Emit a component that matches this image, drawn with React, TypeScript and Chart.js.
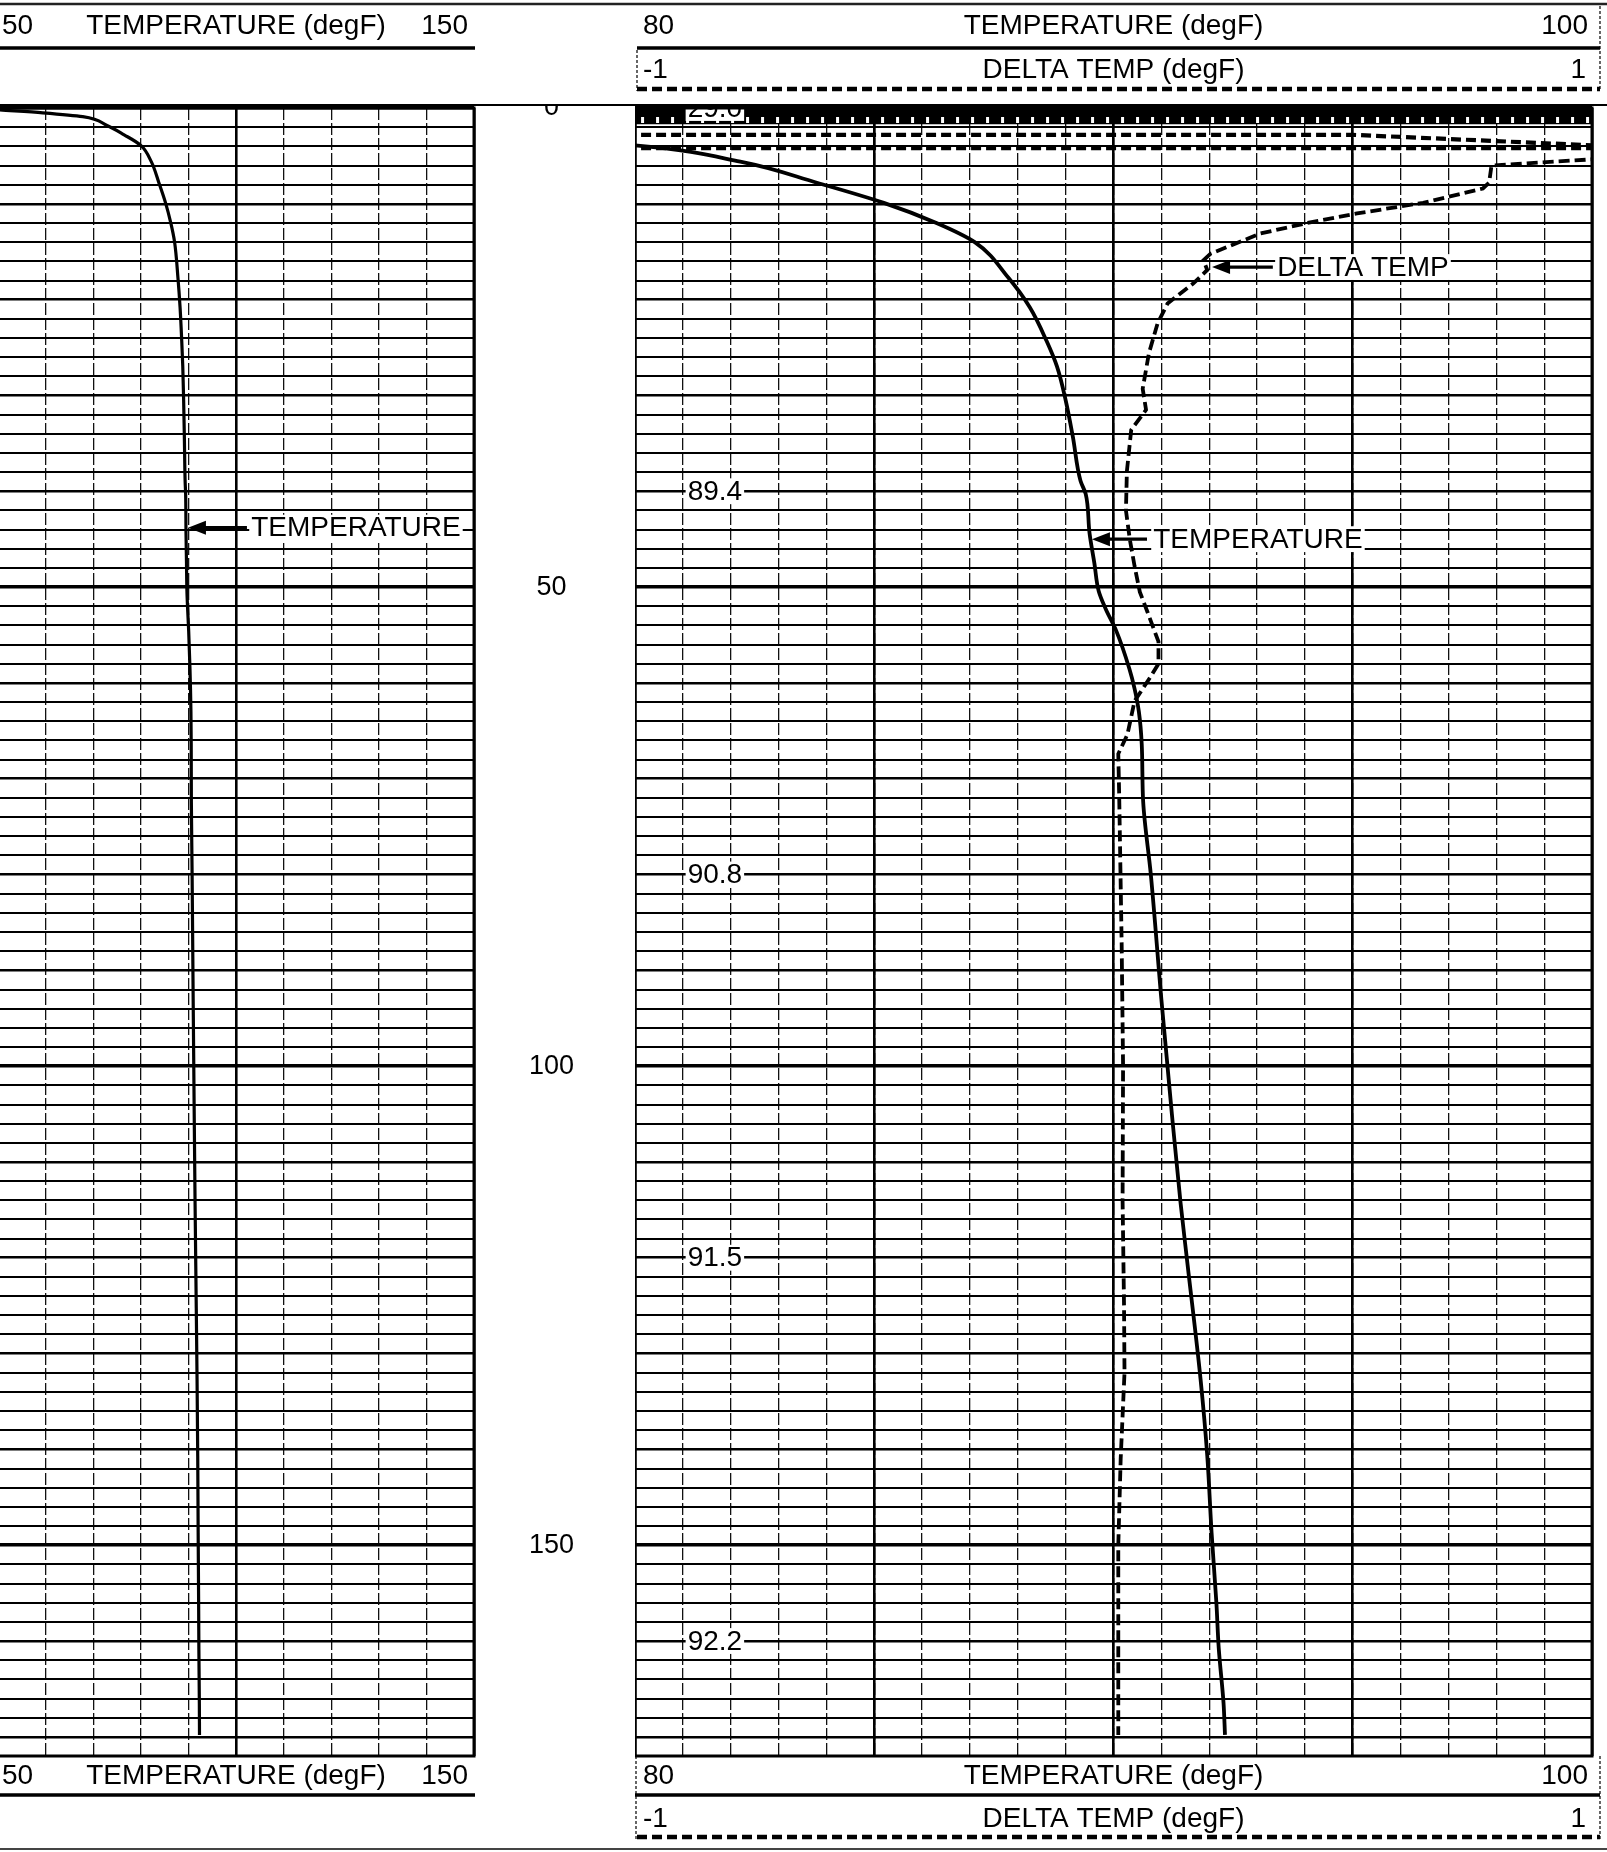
import React, { useEffect, useRef } from 'react';
import { Chart, registerables } from 'chart.js';

Chart.register(...registerables);

const FONT_FAMILY = '"Liberation Sans", Arial, Helvetica, sans-serif';

// ---------------- axes ----------------
const depthMin = 0;
const depthMax = 172;
const depthGridStep = 2;
const depthLabelStep = 50;

const leftTempMin = 50;
const leftTempMax = 150;
const leftTempMinorStep = 10;
const leftTempMajorStep = 50;

const rightTempMin = 80;
const rightTempMax = 100;
const rightTempMinorStep = 1;
const rightTempMajorStep = 5;

const deltaMin = -1;
const deltaMax = 1;

// ---------------- header labels ----------------
const tempAxisTitle = 'TEMPERATURE (degF)';
const deltaAxisTitle = 'DELTA TEMP (degF)';
const leftTempEndLabels = ['50', '150'];
const rightTempEndLabels = ['80', '100'];
const deltaEndLabels = ['-1', '1'];

// ---------------- temperature log (depth, degF) ----------------
const tempDepth = [
  0.2, 0.5, 0.9, 1.8, 2.8, 3.9, 5.6, 7.8, 9.9, 12.0, 14.0, 17.7, 20.8, 24.3, 27.0,
  30.5, 34.3, 38.9, 40.3, 44.4, 47.5, 50.4, 52.2, 54.6, 58.5, 60.6, 63.0, 66.4, 72.4,
  80.0, 93.0, 105.0, 114.2, 120.8, 132.7, 140.7, 148.7, 156.0, 160.8, 166.5, 169.8,
];
const tempValue = [
  50.4, 59.4, 67.8, 72.8, 76.5, 80.0, 82.2, 83.8, 85.2, 86.3, 87.1, 87.8, 88.25, 88.6, 88.82,
  89.0, 89.15, 89.31, 89.42, 89.5, 89.6, 89.69, 89.83, 90.06, 90.33, 90.44, 90.53, 90.59, 90.62,
  90.78, 91.0, 91.22, 91.4, 91.55, 91.82, 91.96, 92.05, 92.15, 92.2, 92.3, 92.33,
];

// ---------------- delta temperature log (depth, degF) ----------------
const deltaDepth = [
  5.3, 6.0, 7.8, 8.4, 9.9, 11.0, 12.0, 13.1, 15.2, 15.9, 16.9, 18.3, 20.4, 22.5, 25.6,
  29.3, 31.5, 33.6, 37.9, 42.0, 45.0, 47.8, 50.5, 52.6, 55.7, 58.0, 59.4, 61.9, 65.4,
  67.4, 72.0, 87.0, 100.0, 114.0, 125.0, 132.0, 141.0, 150.0, 160.0, 169.8,
];
const deltaValue = [
  1.02, 0.79, 0.785, 0.772, 0.647, 0.509, 0.405, 0.307, 0.203, 0.188, 0.196, 0.167, 0.113, 0.092, 0.074,
  0.061, 0.068, 0.037, 0.028, 0.026, 0.034, 0.044, 0.055, 0.071, 0.094, 0.094, 0.077, 0.044, 0.029,
  0.01, 0.012, 0.017, 0.02, 0.019, 0.022, 0.023, 0.015, 0.01, 0.01, 0.01,
];

// near-surface delta traces
const deltaUpperDepth = [2.8, 2.8, 4.0];
const deltaUpperValue = [-1.05, 0.5, 1.05];
const deltaLowerDepth = [4.2, 4.2];
const deltaLowerValue = [-1.05, 1.05];
const surfaceBandDepth = [0.85, 0.85];
const surfaceBandValue = [-1.05, 1.05];
const surfaceHatchDepth = [1.25, 1.25];
const surfaceHatchValue = [-1.05, 1.05];

// temperature readings printed on the log
const readingDepth = [0, 40, 80, 120, 160];
const readingText = ['29.0', '89.4', '90.8', '91.5', '92.2'];

// annotations (data units)
const leftNote = { text: 'TEMPERATURE', depth: 43.8, tip: 89.9, tail: 102.3, textAt: 103.2 };
const rightTempNote = { text: 'TEMPERATURE', depth: 45.0, tip: 89.55, tail: 90.7, textAt: 90.83 };
const deltaNote = { text: 'DELTA TEMP', depth: 16.6, tip: 0.206, tail: 0.333, textAt: 0.342 };
const readingLabelAt = 81.1;

// ---------------- helpers ----------------
const pts = (xs: number[], ys: number[]) => ys.map((y, i) => ({ x: xs[i], y }));

function font(size: number) {
  return `${size}px ${FONT_FAMILY}`;
}

function hLine(ctx: CanvasRenderingContext2D, x1: number, x2: number, y: number, w: number, dash: number[] = [], color = '#000') {
  ctx.save();
  ctx.strokeStyle = color;
  ctx.lineWidth = w;
  ctx.setLineDash(dash);
  ctx.beginPath();
  ctx.moveTo(x1, y);
  ctx.lineTo(x2, y);
  ctx.stroke();
  ctx.restore();
}

function vLine(ctx: CanvasRenderingContext2D, x: number, y1: number, y2: number, w: number, dash: number[] = []) {
  ctx.save();
  ctx.strokeStyle = '#000';
  ctx.lineWidth = w;
  ctx.setLineDash(dash);
  ctx.beginPath();
  ctx.moveTo(x, y1);
  ctx.lineTo(x, y2);
  ctx.stroke();
  ctx.restore();
}

function headerRow(ctx: CanvasRenderingContext2D, ca: any, y: number, labels: string[], title: string, lInset: number, rInset: number) {
  ctx.save();
  ctx.font = font(28);
  ctx.fillStyle = '#000';
  ctx.textBaseline = 'middle';
  ctx.textAlign = 'left';
  ctx.fillText(labels[0], ca.left + lInset, y);
  ctx.textAlign = 'right';
  ctx.fillText(labels[1], ca.right - rInset, y);
  ctx.textAlign = 'center';
  ctx.fillText(title, (ca.left + ca.right) / 2, y);
  ctx.restore();
}

function boxedText(ctx: CanvasRenderingContext2D, text: string, x: number, y: number, size: number) {
  ctx.font = font(size);
  ctx.textBaseline = 'middle';
  ctx.textAlign = 'left';
  const w = ctx.measureText(text).width;
  const h = size * 0.78;
  ctx.fillStyle = '#fff';
  ctx.fillRect(x - 2, y - h / 2 - 2, w + 4, h + 4);
  ctx.fillStyle = '#000';
  ctx.fillText(text, x, y + 1);
}

function arrow(ctx: CanvasRenderingContext2D, tipX: number, tailX: number, y: number) {
  ctx.save();
  ctx.strokeStyle = '#000';
  ctx.fillStyle = '#000';
  ctx.lineWidth = 3.2;
  ctx.beginPath();
  ctx.moveTo(tipX + 12, y);
  ctx.lineTo(tailX, y);
  ctx.stroke();
  ctx.beginPath();
  ctx.moveTo(tipX, y);
  ctx.lineTo(tipX + 18, y - 7);
  ctx.lineTo(tipX + 18, y + 7);
  ctx.closePath();
  ctx.fill();
  ctx.restore();
}

function note(chart: any, xId: string, n: { text: string; depth: number; tip: number; tail: number; textAt: number }) {
  const { ctx } = chart;
  const xs = chart.scales[xId];
  const ys = chart.scales.y;
  const y = ys.getPixelForValue(n.depth);
  const tx = xs.getPixelForValue(n.textAt);
  ctx.save();
  boxedText(ctx, n.text, tx, y, 28);
  arrow(ctx, xs.getPixelForValue(n.tip), xs.getPixelForValue(n.tail), y);
  ctx.restore();
}

const gridWidth = (c: any) => {
  const v = c.tick ? c.tick.value : 1;
  if (v % 50 === 0) return 3.6;
  if (v % 10 === 0) return 2.6;
  return 1.9;
};

const depthAxisBase = {
  type: 'linear' as const,
  reverse: true,
  min: depthMin,
  max: depthMax,
};

// ---------------- plugins ----------------
const leftDecor = {
  id: 'leftDecor',
  afterDraw(chart: any) {
    const { ctx, chartArea: ca, width, height } = chart;
    ctx.save();
    ctx.fillStyle = '#fff';
    ctx.fillRect(ca.right + 2, ca.top - 22, width - ca.right - 2, 19);
    hLine(ctx, 0, width, 4, 2.5, [], '#222');
    hLine(ctx, 0, width, ca.top - 3, 2);
    headerRow(ctx, ca, ca.top - 82, leftTempEndLabels, tempAxisTitle, 4, 6);
    hLine(ctx, ca.left, ca.right + 1, ca.top - 60, 3.5);
    headerRow(ctx, ca, ca.bottom + 20, leftTempEndLabels, tempAxisTitle, 4, 6);
    hLine(ctx, ca.left, ca.right + 1, ca.bottom + 39, 3.5);
    hLine(ctx, 0, width, height - 3, 2, [], '#444');
    ctx.strokeStyle = '#000';
    ctx.lineWidth = 3;
    ctx.strokeRect(ca.left, ca.top, ca.right - ca.left, ca.bottom - ca.top);
    note(chart, 'x', leftNote);
    ctx.restore();
  },
};

const rightDecor = {
  id: 'rightDecor',
  afterDraw(chart: any) {
    const { ctx, chartArea: ca, width, height } = chart;
    const xs = chart.scales.x;
    const ys = chart.scales.y;
    ctx.save();
    ctx.save();
    ctx.beginPath();
    ctx.rect(ca.left, ca.top, ca.right - ca.left, ca.bottom - ca.top);
    ctx.clip();
    readingDepth.forEach((d, i) => {
      boxedText(ctx, readingText[i], xs.getPixelForValue(readingLabelAt), ys.getPixelForValue(d), 28);
    });
    ctx.restore();

    note(chart, 'x', rightTempNote);
    note(chart, 'x2', deltaNote);

    hLine(ctx, 0, width, 4, 2.5, [], '#222');
    hLine(ctx, 0, width, ca.top - 3, 2);
    headerRow(ctx, ca, ca.top - 82, rightTempEndLabels, tempAxisTitle, 8, 4);
    hLine(ctx, ca.left + 2, ca.right + 8, ca.top - 60, 3.5);
    headerRow(ctx, ca, ca.top - 38, deltaEndLabels, deltaAxisTitle, 8, 6);
    hLine(ctx, ca.left + 2, ca.right + 8, ca.top - 19, 4.5, [10, 5]);
    vLine(ctx, ca.left + 2, ca.top - 58, ca.top - 17, 1.2, [3, 2]);
    vLine(ctx, ca.right + 8, 6, ca.top - 17, 1.2, [3, 2]);

    headerRow(ctx, ca, ca.bottom + 20, rightTempEndLabels, tempAxisTitle, 8, 4);
    hLine(ctx, ca.left, ca.right + 8, ca.bottom + 39, 3.5);
    headerRow(ctx, ca, ca.bottom + 63, deltaEndLabels, deltaAxisTitle, 8, 6);
    hLine(ctx, ca.left + 2, ca.right + 8, ca.bottom + 81, 4.5, [10, 5]);
    vLine(ctx, ca.left + 1, ca.bottom, ca.bottom + 84, 1.2, [3, 2]);
    vLine(ctx, ca.right + 8, ca.bottom, ca.bottom + 84, 1.2, [3, 2]);
    hLine(ctx, 0, width, height - 3, 2, [], '#444');

    ctx.strokeStyle = '#000';
    ctx.lineWidth = 3;
    ctx.strokeRect(ca.left, ca.top, ca.right - ca.left, ca.bottom - ca.top);
    ctx.restore();
  },
};

function tempAxes(min: number, max: number, minor: number, major: number) {
  return {
    x: {
      type: 'linear' as const,
      position: 'top' as const,
      min,
      max,
      ticks: { display: false, stepSize: minor },
      grid: { drawTicks: false, color: '#111', lineWidth: 1.3 },
      border: { display: false, dash: [12, 3] },
    },
    xMajor: {
      type: 'linear' as const,
      position: 'top' as const,
      min,
      max,
      ticks: { display: false, stepSize: major },
      grid: { drawTicks: false, color: '#000', lineWidth: 2.6 },
      border: { display: false },
    },
  };
}

function leftConfig(): any {
  return {
    type: 'line',
    data: {
      datasets: [
        {
          label: 'TEMPERATURE',
          data: pts(tempValue, tempDepth),
          xAxisID: 'x',
          borderColor: '#000',
          borderWidth: 3.2,
          pointRadius: 0,
          cubicInterpolationMode: 'monotone',
          clip: 0,
        },
      ],
    },
    options: {
      responsive: false,
      maintainAspectRatio: false,
      animation: false,
      indexAxis: 'y',
      layout: { padding: { top: 108, bottom: 96, left: 0, right: 0 } },
      plugins: { legend: { display: false }, tooltip: { enabled: false } },
      scales: {
        ...tempAxes(leftTempMin, leftTempMax, leftTempMinorStep, leftTempMajorStep),
        y: {
          ...depthAxisBase,
          position: 'right',
          ticks: {
            stepSize: depthGridStep,
            autoSkip: false,
            padding: 55,
            crossAlign: 'center',
            color: '#000',
            font: { family: FONT_FAMILY, size: 27 },
            callback: (v: number) => (v % depthLabelStep === 0 ? String(v) : ''),
          },
          grid: { drawTicks: false, color: '#000', lineWidth: gridWidth },
          border: { display: false },
          afterFit: (s: any) => {
            s.width = 161;
          },
        },
      },
    },
    plugins: [leftDecor],
  };
}

function rightConfig(): any {
  const line = (data: any[], axis: string, width: number, dash: number[], color = '#000', extra: any = {}) => ({
    data,
    xAxisID: axis,
    borderColor: color,
    borderWidth: width,
    borderDash: dash,
    pointRadius: 0,
    clip: 0,
    ...extra,
  });
  return {
    type: 'line',
    data: {
      datasets: [
        { label: 'TEMPERATURE', ...line(pts(tempValue, tempDepth), 'x', 3.8, [], '#000', { cubicInterpolationMode: 'monotone' }) },
        { label: 'DELTA TEMP', ...line(pts(deltaValue, deltaDepth), 'x2', 3.8, [11, 5]) },
        { label: 'DELTA TEMP upper', ...line(pts(deltaUpperValue, deltaUpperDepth), 'x2', 4.2, [10, 5]) },
        { label: 'DELTA TEMP lower', ...line(pts(deltaLowerValue, deltaLowerDepth), 'x2', 4.2, [10, 5]) },
        { label: 'surface hatch', ...line(pts(surfaceHatchValue, surfaceHatchDepth), 'x2', 6, [3, 12], '#fff') },
        { label: 'surface band', ...line(pts(surfaceBandValue, surfaceBandDepth), 'x2', 16, []) },
      ],
    },
    options: {
      responsive: false,
      maintainAspectRatio: false,
      animation: false,
      indexAxis: 'y',
      layout: { padding: { top: 108, bottom: 96, left: 0, right: 15 } },
      plugins: { legend: { display: false }, tooltip: { enabled: false } },
      scales: {
        ...tempAxes(rightTempMin, rightTempMax, rightTempMinorStep, rightTempMajorStep),
        x2: { type: 'linear', display: false, min: deltaMin, max: deltaMax },
        y: {
          ...depthAxisBase,
          position: 'left',
          ticks: { display: false, stepSize: depthGridStep },
          grid: { drawTicks: false, color: '#000', lineWidth: gridWidth },
          border: { display: false },
        },
      },
    },
    plugins: [rightDecor],
  };
}

export default function App() {
  const leftRef = useRef<HTMLCanvasElement>(null);
  const rightRef = useRef<HTMLCanvasElement>(null);
  useEffect(() => {
    const charts: Chart[] = [];
    if (leftRef.current) charts.push(new Chart(leftRef.current, leftConfig()));
    if (rightRef.current) charts.push(new Chart(rightRef.current, rightConfig()));
    return () => charts.forEach((c) => c.destroy());
  }, []);
  return (
    <div
      style={{
        position: 'absolute',
        left: 0,
        top: 0,
        width: 1607,
        height: 1852,
        background: '#fff',
        overflow: 'hidden',
      }}
    >
      <canvas ref={leftRef} width={637} height={1852} style={{ position: 'absolute', left: -2, top: 0, width: 637, height: 1852 }} />
      <canvas ref={rightRef} width={972} height={1852} style={{ position: 'absolute', left: 635, top: 0, width: 972, height: 1852 }} />
    </div>
  );
}
